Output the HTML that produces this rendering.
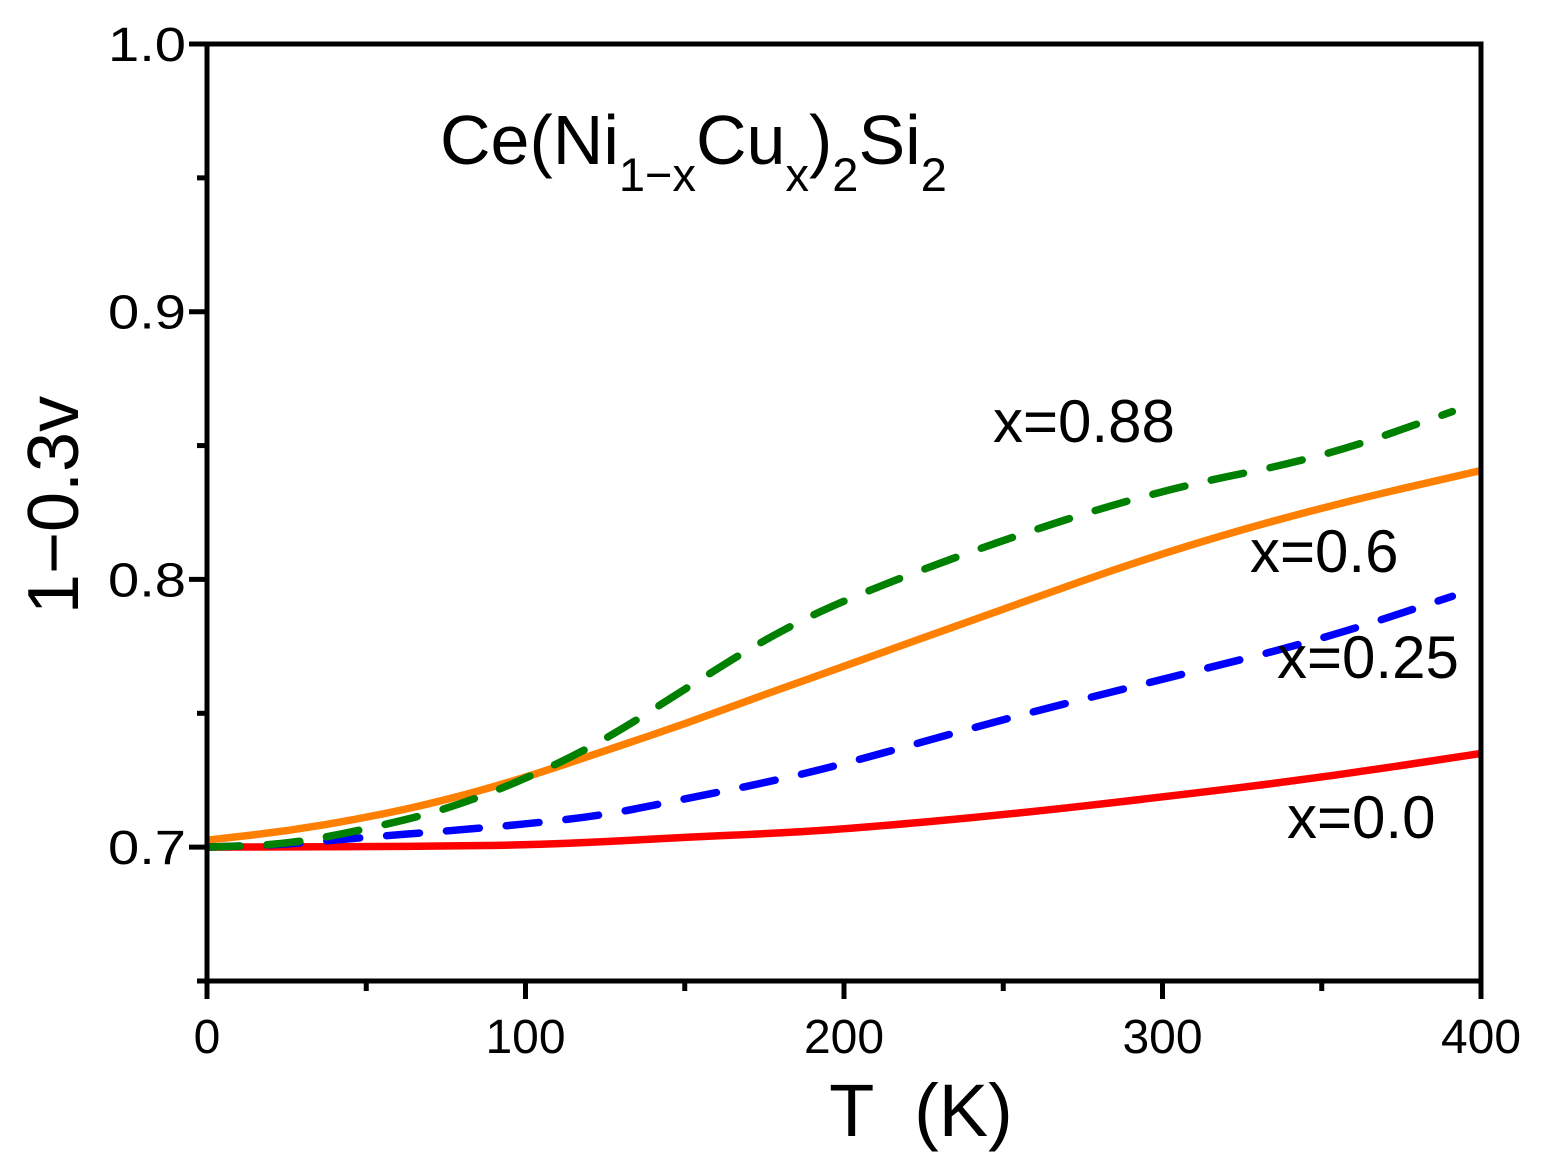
<!DOCTYPE html>
<html><head><meta charset="utf-8"><style>
html,body{margin:0;padding:0;background:#fff;}
svg{display:block;font-family:"Liberation Sans",Arial,sans-serif;}
text{white-space:pre;}
</style></head><body>
<svg id="chart" width="1550" height="1170" viewBox="0 0 1550 1170">
<g id="plot"></g>
<g id="axes"></g>
<text x="440" y="164" font-size="70">Ce(Ni<tspan font-size="47" dy="27">1−x</tspan><tspan dy="-27">Cu</tspan><tspan font-size="47" dy="27">x</tspan><tspan dy="-27">)</tspan><tspan font-size="47" dy="27">2</tspan><tspan dy="-27">Si</tspan><tspan font-size="47" dy="27">2</tspan></text>
<text x="921" y="1136" font-size="74" text-anchor="middle" xml:space="preserve">T  (K)</text>
<text transform="translate(78,505) rotate(-90)" font-size="72" text-anchor="middle">1−0.3v</text>
<text x="993" y="442" font-size="60">x=0.88</text>
<text x="1250" y="572" font-size="60">x=0.6</text>
<text x="1277" y="678" font-size="60">x=0.25</text>
<text x="1287" y="838" font-size="60">x=0.0</text>
</svg>
<script>
const T = [0,25,50,75,100,125,150,175,200,250,300,350,400];
const red = [0.700,0.7001,0.7002,0.7004,0.7008,0.7020,0.7037,0.7050,0.7067,0.712,0.7187,0.726,0.735];
const orange = [0.7026,0.706,0.711,0.7175,0.726,0.736,0.746,0.757,0.7675,0.789,0.810,0.827,0.8407];
const T2 = [0,25,50,75,100,125,150,175,200,250,300,350,391];
const green = [0.700,0.701,0.7067,0.714,0.7254,0.740,0.759,0.7776,0.7925,0.815,0.8336,0.8455,0.8627];
const blue = [0.700,0.701,0.7037,0.706,0.7086,0.712,0.718,0.724,0.731,0.7478,0.7627,0.7776,0.7937];
const xTicks = [0,100,200,300,400];
const yTicks = [0.7,0.8,0.9,1.0];
const yTickLabels = ["0.7","0.8","0.9","1.0"];
const NS="http://www.w3.org/2000/svg";
const X0=207,X1=1481,Y0=981,Y1=44,ymin=0.65,ymax=1.0;
const sx=v=>X0+(v/400)*(X1-X0);
const sy=v=>Y0-(v-ymin)/(ymax-ymin)*(Y0-Y1);
const plot=document.getElementById('plot'),axes=document.getElementById('axes');
function mk(tag,attrs,parent){const e=document.createElementNS(NS,tag);for(const k in attrs)e.setAttribute(k,attrs[k]);parent.appendChild(e);return e;}
function path(xs,ys){let d='';for(let i=0;i<xs.length;i++){const x=sx(xs[i]),y=sy(ys[i]);if(i===0){d+='M'+x+','+y;}else{const px=sx(xs[i-1]),py=sy(ys[i-1]);const mx=(px+x)/2;d+=' Q'+px+','+py+' '+mx+','+((py+y)/2);}}
d+=' L'+sx(xs[xs.length-1])+','+sy(ys[ys.length-1]);return d;}
const series=[[T,red,'#ff0000',null,'series-x00'],[T,orange,'#ff8000',null,'series-x06'],[T2,blue,'#0000ff','33 27','series-x025'],[T2,green,'#008000','33 27','series-x088']];
series.forEach(s=>{const p=mk('path',{d:path(s[0],s[1]),fill:'none',stroke:s[2],'stroke-width':7.5,'stroke-linecap':s[3]?'round':'butt'},plot);if(s[3])p.setAttribute('stroke-dasharray',s[3]);

});
mk('rect',{x:X0,y:Y1,width:X1-X0,height:Y0-Y1,fill:'none',stroke:'#000','stroke-width':5},axes);
for(let t=0;t<=400;t+=50){const major=t%100===0;const x=sx(t);
mk('line',{x1:x,y1:Y0,x2:x,y2:Y0+(major?18:10),stroke:'#000','stroke-width':5},axes);}
xTicks.forEach(t=>{const e=mk('text',{x:sx(t),y:1053,'font-size':48,'text-anchor':'middle'},axes);e.textContent=t;

});
for(let v=0.65;v<=1.0001;v+=0.05){const major=Math.abs(Math.round(v*10)-v*10)<1e-6;const y=sy(v);
mk('line',{x1:X0,y1:y,x2:X0-(major?18:10),y2:y,stroke:'#000','stroke-width':5},axes);}
yTicks.forEach((v,i)=>{const e=mk('text',{x:186,y:sy(v)+17,'font-size':48,'text-anchor':'end',textLength:78,lengthAdjust:'spacingAndGlyphs'},axes);e.textContent=yTickLabels[i];

});
</script>
</body></html>
